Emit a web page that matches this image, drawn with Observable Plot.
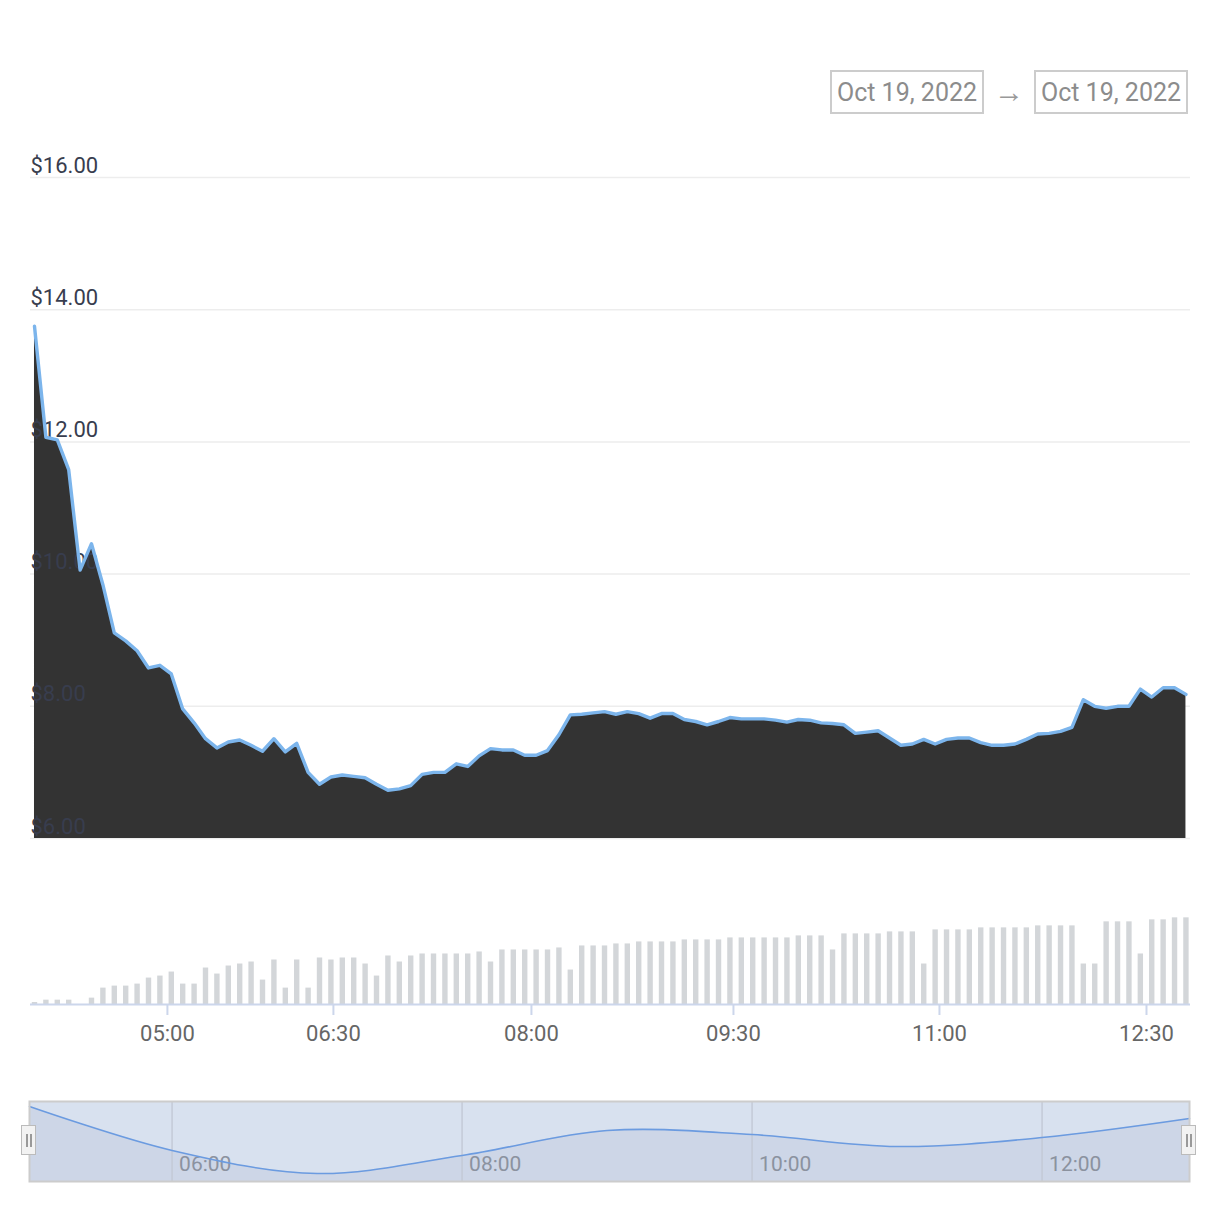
<!DOCTYPE html>
<html>
<head>
<meta charset="utf-8">
<script src="https://cdn.jsdelivr.net/npm/d3@7"></script>
<script src="https://cdn.jsdelivr.net/npm/@observablehq/plot@0.6"></script>
<style>
  body { margin: 0; background: #fff; font-family: Roboto, "Noto Sans", sans-serif; }
  #root { position: relative; width: 1220px; height: 1220px; overflow: hidden; background: #fff; }
  .panel { position: absolute; left: 0; }
  .datebox { position: absolute; top: 70px; width: 150px; height: 40px; border: 2px solid #cccccc;
             color: #8c8c8c; font-size: 25px; line-height: 41px; text-align: center; white-space: nowrap; }
  .arrow { position: absolute; top: 72px; left: 989px; width: 40px; height: 40px; line-height: 40px;
           text-align: center; color: #999; font-size: 30px; }
  .handle { position: absolute; top: 1125px; width: 13px; height: 28px; background: #f2f2f2;
            border: 1.5px solid #bbbbbb; box-sizing: content-box; }
  .handle::before, .handle::after { content: ""; position: absolute; top: 8px; width: 1.5px; height: 13px; background: #999; }
  .handle::before { left: 4px; }
  .handle::after { left: 8px; }
</style>
</head>
<body>
<div id="root"></div>
<script>
// ---- data ----
const price = [
  13.75, 12.07, 12.03, 11.58, 10.06, 10.46, 9.84, 9.11, 8.99, 8.84,
  8.58, 8.62, 8.49, 7.96, 7.75, 7.51, 7.37, 7.46, 7.49, 7.41,
  7.32, 7.51, 7.31, 7.44, 7.00, 6.82, 6.93, 6.96, 6.94, 6.92,
  6.82, 6.73, 6.75, 6.80, 6.97, 7.00, 7.00, 7.13, 7.09, 7.25,
  7.36, 7.34, 7.34, 7.26, 7.26, 7.33, 7.57, 7.87, 7.88, 7.90,
  7.92, 7.88, 7.92, 7.89, 7.82, 7.89, 7.89, 7.80, 7.77, 7.72,
  7.77, 7.83, 7.81, 7.81, 7.81, 7.79, 7.76, 7.80, 7.79, 7.75,
  7.74, 7.72, 7.59, 7.61, 7.63, 7.52, 7.41, 7.43, 7.50, 7.43,
  7.50, 7.52, 7.52, 7.45, 7.41, 7.41, 7.43, 7.50, 7.58, 7.59,
  7.62, 7.68, 8.10, 8.00, 7.97, 8.00, 8.00, 8.26, 8.14, 8.28,
  8.28, 8.18
];
const volume = [
  6, 13, 13, 13, 0, 19, 49, 55, 55, 61,
  79, 85, 97, 61, 61, 109, 91, 115, 121, 127,
  73, 133, 49, 133, 49, 139, 133, 139, 139, 121,
  85, 145, 127, 145, 151, 151, 151, 151, 151, 157,
  127, 163, 163, 163, 163, 163, 169, 103, 175, 175,
  175, 181, 181, 187, 187, 187, 187, 193, 193, 193,
  193, 199, 199, 199, 199, 199, 199, 205, 205, 205,
  163, 211, 211, 211, 211, 217, 217, 217, 121, 223,
  223, 223, 223, 229, 229, 229, 229, 229, 235, 235,
  235, 235, 121, 121, 247, 247, 247, 151, 253, 253,
  259, 259
];
// ordinal axis: tick positions expressed in point index units
const xTickIdx = [11.66, 26.22, 43.59, 61.31, 79.38, 97.54];
const xTickLabels = ["05:00", "06:30", "08:00", "09:30", "11:00", "12:30"];
const yTicks = [6, 8, 10, 12, 14, 16];

const navTimes = ["05:01", "06:00", "07:00", "08:00", "09:00", "10:00", "11:00", "12:00", "13:01"];
const navValues = [13.43, 9.31, 7.15, 8.84, 11.18, 10.8, 9.68, 10.52, 12.3];
const navTickTimes = ["06:00", "08:00", "10:00", "12:00"];
const navDomain = [6.4, 13.9];

const dateFrom = "Oct 19, 2022";
const dateTo = "Oct 19, 2022";

// ---- build ----
const root = document.getElementById("root");
const data = price.map((p, i) => ({ i, price: p, volume: volume[i] }));
const xDomain = [-0.35, price.length - 1 + 0.4];
const font = "Roboto, 'Noto Sans', sans-serif";

const pricePlot = Plot.plot({
  width: 1220, height: 850,
  marginTop: 177, marginBottom: 12, marginLeft: 30, marginRight: 30,
  x: { domain: xDomain, axis: null },
  y: { domain: [yTicks[0], yTicks[yTicks.length - 1]], axis: null },
  style: { fontFamily: font, background: "transparent", overflow: "visible" },
  marks: [
    Plot.ruleY(yTicks, { stroke: "#ededed", strokeWidth: 1.5 }),
    Plot.areaY(data, { x: "i", y1: yTicks[0], y2: "price", fill: "#333333" }),
    Plot.text(yTicks, { y: d => d, frameAnchor: "left", text: d => "$" + d.toFixed(2),
      textAnchor: "start", dy: -12, fontSize: 22, fill: "#383d4e" }),
    Plot.lineY(data, { x: "i", y: "price", stroke: "#7cb5ec", strokeWidth: 3.4,
      strokeLinejoin: "round", strokeLinecap: "round" })
  ]
});
pricePlot.classList.add("panel");
pricePlot.style.top = "0px";
root.appendChild(pricePlot);

const tickLabel = new Map(xTickIdx.map((t, k) => [t, xTickLabels[k]]));
const volPlot = Plot.plot({
  width: 1220, height: 190,
  marginTop: 47, marginBottom: 56, marginLeft: 30, marginRight: 30,
  x: { domain: xDomain, axis: null },
  y: { domain: [0, 260], axis: null },
  style: { fontFamily: font, background: "transparent", overflow: "visible" },
  marks: [
    Plot.ruleX(data, { x: "i", y1: 0, y2: "volume", stroke: "#d3d6d9", strokeWidth: 5.4 }),
    Plot.ruleY([0], { stroke: "#ccd6eb", strokeWidth: 2 }),
    Plot.axisX(xTickIdx, { tickFormat: d => tickLabel.get(d), tickSize: 11, tickPadding: 10,
      label: null, stroke: "#ccd6eb", strokeWidth: 2, fill: "#666666", fontSize: 22 })
  ]
});
volPlot.classList.add("panel");
volPlot.style.top = "870px";
root.appendChild(volPlot);

const hours = s => { const [h, m] = s.split(":").map(Number); return h + m / 60; };
const nav = navTimes.map((t, k) => ({ h: hours(t), v: navValues[k] }));
const navPlot = Plot.plot({
  width: 1220, height: 110,
  marginTop: 11, marginBottom: 19, marginLeft: 29, marginRight: 31,
  x: { domain: d3.extent(nav, d => d.h), axis: null },
  y: { domain: navDomain, axis: null },
  style: { fontFamily: font, background: "transparent", overflow: "visible" },
  marks: [
    Plot.frame({ fill: "#d8e1ef" }),
    Plot.areaY(nav, { x: "h", y1: navDomain[0], y2: "v", curve: "catmull-rom", fill: "#cdd6e7" }),
    Plot.ruleX(navTickTimes.map(hours), { stroke: "#c3cad7", strokeWidth: 1.5 }),
    Plot.text(navTickTimes, { x: hours, frameAnchor: "bottom", text: d => d, textAnchor: "start",
      dx: 7, dy: -11, fontSize: 21, fill: "#8b929f" }),
    Plot.lineY(nav, { x: "h", y: "v", curve: "catmull-rom", stroke: "#6b9be0", strokeWidth: 1.6 }),
    Plot.frame({ stroke: "#cccccc", strokeWidth: 2 })
  ]
});
navPlot.classList.add("panel");
navPlot.style.top = "1090px";
root.appendChild(navPlot);

// navigator handles
for (const left of [21, 1181]) {
  const h = document.createElement("div");
  h.className = "handle";
  h.style.left = left + "px";
  root.appendChild(h);
}

// date range inputs
const b1 = document.createElement("div");
b1.className = "datebox"; b1.style.left = "830px"; b1.textContent = dateFrom;
const ar = document.createElement("div");
ar.className = "arrow"; ar.textContent = "→";
const b2 = document.createElement("div");
b2.className = "datebox"; b2.style.left = "1034px"; b2.textContent = dateTo;
root.append(b1, ar, b2);
</script>
</body>
</html>
